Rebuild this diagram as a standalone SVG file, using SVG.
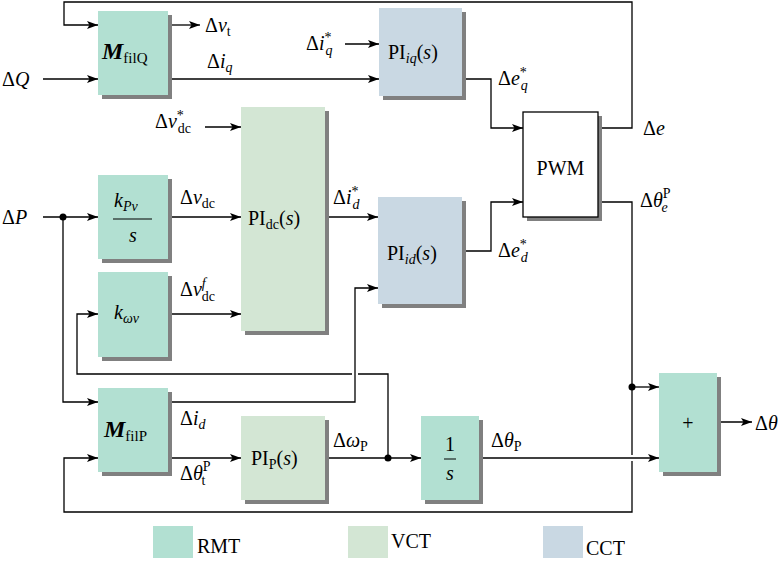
<svg xmlns="http://www.w3.org/2000/svg" width="783" height="568" viewBox="0 0 783 568" font-family="Liberation Serif, Times New Roman, DejaVu Serif, serif">
<defs>
<marker id="arr" markerUnits="userSpaceOnUse" markerWidth="12" markerHeight="10" refX="11" refY="4" orient="auto">
<path d="M0,0 L11,4 L0,8 L2.5,4 z" fill="#000"/>
</marker>
</defs>
<style>
text{font-size:20px;fill:#000}
.c{text-anchor:middle}
.i{font-style:italic}
.s{font-size:14px}
.sh{fill:#808080}
.rmt{fill:#b2e0d2}
.vct{fill:#d3e6d4}
.cct{fill:#c9d8e3}
.ln{fill:none;stroke:#000;stroke-width:1.3}
.ar{marker-end:url(#arr)}
.halo{fill:none;stroke:#fff;stroke-width:6}
.leg{font-size:20px}
</style>

<g id="connectors">
<path class="ln ar" d="M598 128 H632 V2 H64 V25 H98"/>
<path class="ln ar" d="M43 79 H98"/>
<path class="ln ar" d="M168 25 H200"/>
<path class="ln ar" d="M168 79 H379"/>
<path class="ln ar" d="M345 44 H379"/>
<path class="ln ar" d="M462 79 H491 V128 H523"/>
<path class="ln ar" d="M462 251 H491 V202 H523"/>
<path class="ln ar" d="M598 202 H632 V512 H64 V458 H98"/>
<path class="ln ar" d="M632 387 H659"/>
<circle cx="632" cy="387" r="3.5"/>
<path class="ln ar" d="M205 127 H241"/>
<path class="ln ar" d="M43 217 H98"/>
<path class="ln ar" d="M63 217 V402 H98"/>
<circle cx="63" cy="217" r="3.5"/>
<path class="ln ar" d="M168 217 H241"/>
<path class="ln ar" d="M168 314 H241"/>
<path class="ln ar" d="M325 217 H378"/>
<path class="ln ar" d="M388 458 V374 H77 V314 H98"/>
<path class="halo" d="M355 366 V382"/>
<path class="ln ar" d="M168 402 H355 V288 H378"/>
<path class="ln ar" d="M168 458 H241"/>
<path class="ln ar" d="M325 458 H421"/>
<circle cx="388" cy="458" r="3.5"/>
<path class="halo" d="M624 458 H640"/>
<path class="ln ar" d="M479 458 H659"/>
<path class="ln ar" d="M717 422 H752"/>
</g>

<g id="node-MfilQ">
<rect class="sh" x="102" y="15" width="70" height="84"/>
<rect class="rmt" x="98" y="11" width="70" height="84"/>
<text x="102" y="59"><tspan font-weight="bold" font-style="italic" font-size="24">M</tspan><tspan font-size="15" dy="4">filQ</tspan></text>
</g>

<g id="node-PIiq">
<rect class="sh" x="383" y="12" width="83" height="88"/>
<rect class="cct" x="379" y="8" width="83" height="88"/>
<text x="388" y="59">PI<tspan class="s i" dy="4">iq</tspan><tspan dy="-4">(</tspan><tspan class="i">s</tspan>)</text>
</g>

<g id="node-PWM">
<rect class="sh" x="527" y="116" width="75" height="105"/>
<rect x="523" y="112" width="75" height="105" fill="#fff" stroke="#000" stroke-width="1.3"/>
<text class="c" x="560.5" y="175" font-size="18">PWM</text>
</g>

<g id="node-kPv">
<rect class="sh" x="102" y="179" width="70" height="84"/>
<rect class="rmt" x="98" y="175" width="70" height="84"/>
<text x="114" y="207"><tspan class="i">k</tspan><tspan class="s i" dy="4">Pv</tspan></text>
<line x1="113" y1="219" x2="152" y2="219" stroke="#000" stroke-width="1"/>
<text class="c i" x="133" y="242">s</text>
</g>

<g id="node-kwv">
<rect class="sh" x="102" y="276" width="70" height="85"/>
<rect class="rmt" x="98" y="272" width="70" height="85"/>
<text x="114" y="319"><tspan class="i">k</tspan><tspan class="s i" dy="4">ωv</tspan></text>
</g>

<g id="node-PIdc">
<rect class="sh" x="245" y="111" width="84" height="224"/>
<rect class="vct" x="241" y="107" width="84" height="224"/>
<text x="248" y="225">PI<tspan class="s" dy="4">dc</tspan><tspan dy="-4">(</tspan><tspan class="i">s</tspan>)</text>
</g>

<g id="node-PIid">
<rect class="sh" x="382" y="201" width="84" height="107"/>
<rect class="cct" x="378" y="197" width="84" height="107"/>
<text x="387" y="260">PI<tspan class="s i" dy="4">id</tspan><tspan dy="-4">(</tspan><tspan class="i">s</tspan>)</text>
</g>

<g id="node-MfilP">
<rect class="sh" x="102" y="392" width="70" height="84"/>
<rect class="rmt" x="98" y="388" width="70" height="84"/>
<text x="104" y="437"><tspan font-weight="bold" font-style="italic" font-size="24">M</tspan><tspan font-size="15" dy="4">filP</tspan></text>
</g>

<g id="node-PIP">
<rect class="sh" x="245" y="420" width="84" height="84"/>
<rect class="vct" x="241" y="416" width="84" height="84"/>
<text x="251" y="465">PI<tspan class="s" dy="4">P</tspan><tspan dy="-4">(</tspan><tspan class="i">s</tspan>)</text>
</g>

<g id="node-integrator">
<rect class="sh" x="425" y="420" width="58" height="84"/>
<rect class="rmt" x="421" y="416" width="58" height="84"/>
<text class="c" x="450" y="451">1</text>
<line x1="444" y1="459" x2="456" y2="459" stroke="#000" stroke-width="1"/>
<text class="c i" x="450" y="480">s</text>
</g>

<g id="node-sum">
<rect class="sh" x="663" y="377" width="58" height="99"/>
<rect class="rmt" x="659" y="373" width="58" height="99"/>
<text class="c" x="688" y="430" font-size="22">+</text>
</g>

<g id="labels">
<text x="2" y="86">Δ<tspan class="i">Q</tspan></text>
<text x="205" y="32">Δ<tspan class="i">v</tspan><tspan class="s" dy="4">t</tspan></text>
<text x="207" y="68">Δ<tspan class="i">i</tspan><tspan class="s i" dy="4">q</tspan></text>
<text x="306" y="50">Δ<tspan class="i">i</tspan><tspan class="s" dy="-8">*</tspan><tspan class="s i" dx="-6" dy="13">q</tspan></text>
<text x="498" y="85">Δ<tspan class="i">e</tspan><tspan class="s" dy="-8">*</tspan><tspan class="s i" dx="-6" dy="13">q</tspan></text>
<text x="643" y="135">Δ<tspan class="i">e</tspan></text>
<text x="640" y="207">Δ<tspan class="i">θ</tspan><tspan class="s" dy="-9">P</tspan><tspan class="s i" dx="-9" dy="14">e</tspan></text>
<text x="155" y="128">Δ<tspan class="i">v</tspan><tspan class="s" dy="-8">*</tspan><tspan class="s" dx="-6" dy="13">dc</tspan></text>
<text x="2" y="224">Δ<tspan class="i">P</tspan></text>
<text x="180" y="204">Δ<tspan class="i">v</tspan><tspan class="s" dy="4">dc</tspan></text>
<text x="180" y="296">Δ<tspan class="i">v</tspan><tspan class="s i" dy="-8">f</tspan><tspan class="s" dx="-4" dy="13">dc</tspan></text>
<text x="333" y="204">Δ<tspan class="i">i</tspan><tspan class="s" dy="-8">*</tspan><tspan class="s i" dx="-6" dy="13">d</tspan></text>
<text x="498" y="257">Δ<tspan class="i">e</tspan><tspan class="s" dy="-8">*</tspan><tspan class="s i" dx="-6" dy="13">d</tspan></text>
<text x="180" y="425">Δ<tspan class="i">i</tspan><tspan class="s i" dy="4">d</tspan></text>
<text x="180" y="480">Δ<tspan class="i">θ</tspan><tspan class="s" dy="-9">P</tspan><tspan class="s" dx="-9" dy="14">t</tspan></text>
<text x="333" y="447">Δ<tspan class="i">ω</tspan><tspan class="s" dy="4">P</tspan></text>
<text x="491" y="447">Δ<tspan class="i">θ</tspan><tspan class="s" dy="4">P</tspan></text>
<text x="755" y="430">Δ<tspan class="i">θ</tspan></text>
</g>

<g id="legend">
<rect class="rmt" x="153" y="526" width="40" height="32"/>
<text class="leg" x="197" y="553">RMT</text>
<rect class="vct" x="348" y="526" width="40" height="32"/>
<text class="leg" x="391" y="548">VCT</text>
<rect class="cct" x="543" y="526" width="40" height="32"/>
<text class="leg" x="586" y="555">CCT</text>
</g>
</svg>
